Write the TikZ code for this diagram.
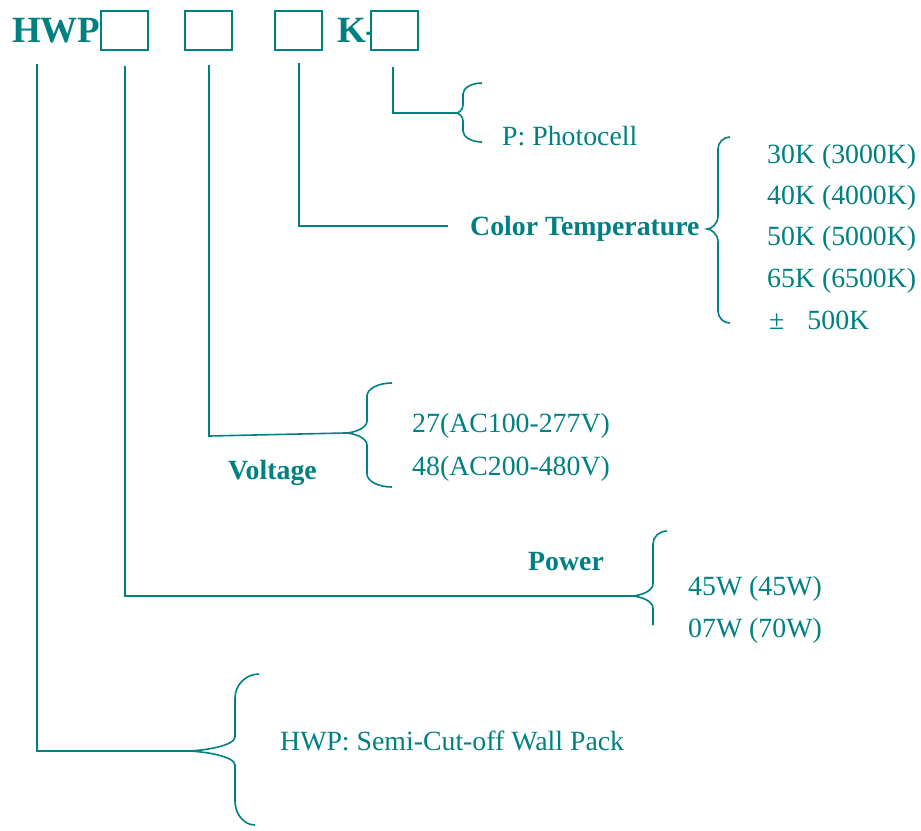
\documentclass[tikz,border=0pt]{standalone}
\usepackage{fontspec}
\setmainfont{Liberation Serif}
\definecolor{tealc}{RGB}{0,128,128}
\newcommand\cbrace[9]{%
\draw[ln] (#4,#5) .. controls ({#3+0.45*(#4-#3)},#5) and (#3,{#5+0.45*#7}) .. (#3,{#5+#7})
 -- (#3,{#2-#8}) .. controls (#3,{#2-0.4*#8}) and ({#1+0.4*(#3-#1)},#2) .. (#1,#2)
 .. controls ({#1+0.4*(#3-#1)},#2) and (#3,{#2+0.4*#8}) .. (#3,{#2+#8})
 -- (#3,{#6-#7}) .. controls (#3,{#6-0.45*#7}) and ({#3+0.45*(#9-#3)},#6) .. (#9,#6);}
\tikzset{
  ln/.style={draw=tealc, line width=1.6pt},
  txt/.style={text=tealc, font=\fontsize{27.8}{30}\selectfont, anchor=base west, inner sep=0pt},
  btxt/.style={txt, font=\fontsize{27.8}{30}\selectfont\bfseries},
  htxt/.style={txt, font=\fontsize{37}{40}\selectfont\bfseries},
  codebox/.style={draw=tealc, line width=1.6pt, fill=white, minimum width=47.5pt, minimum height=39.5pt, inner sep=0pt}
}
\begin{document}
\begin{tikzpicture}[x=1pt,y=-1pt]
\useasboundingbox (0,0) rectangle (921,830);
% header
\node[htxt] (hwp) at (12,42) {HWP};
\node[htxt] (k) at (337,42) {K-};
\node[codebox] (b1) at (124.5,30.5) {};
\node[codebox] (b2) at (208.5,30.5) {};
\node[codebox] (b3) at (298.5,30.5) {};
\node[codebox] (b4) at (394.5,30.5) {};
% line tops
\coordinate (t0) at (37,64);
\coordinate (t1) at (125,66);
\coordinate (t2) at (209,65);
\coordinate (t3) at (299,63);
\coordinate (t4) at (393,67);
% tips
\coordinate (pcTip) at (456,113);
\coordinate (ctEnd) at (448,226);
\coordinate (vCorner) at (209,436);
\coordinate (vTip) at (345,433);
\coordinate (pTip) at (631,596);
\coordinate (hTip) at (185,751);
% connectors
\draw[ln] (t4) |- (pcTip);
\draw[ln] (t3) |- (ctEnd);
\draw[ln] (t2) -- (vCorner) -- (vTip);
\draw[ln] (t1) |- (pTip);
\draw[ln] (t0) |- (hTip);
% braces
\cbrace{456}{113}{463}{482}{83}{142}{11}{8}{482}
\cbrace{707}{229}{718}{730}{137}{323}{12}{13}{730}
\cbrace{345}{433}{367}{392}{383}{487}{13}{12}{392}
\cbrace{631}{596}{653}{667}{531}{625}{13}{12}{653}
\cbrace{185}{751}{235}{259}{674}{825}{24}{14}{255}
% texts
\node[txt] (pc) at (502,145) {P: Photocell};
\node[btxt] (ct) at (470,235) {Color Temperature};
\node[txt] (ct1) at (767,163) {30K (3000K)};
\node[txt] (ct2) at (767,204) {40K (4000K)};
\node[txt] (ct3) at (767,245) {50K (5000K)};
\node[txt] (ct4) at (767,287) {65K (6500K)};
\node[txt] (ct5) at (769,329) {±\hspace{23pt}500K};
\node[txt] (v1) at (412,432) {27(AC100-277V)};
\node[txt] (v2) at (412,475) {48(AC200-480V)};
\node[btxt] (vl) at (228,479) {Voltage};
\node[btxt] (pw) at (528,570) {Power};
\node[txt] (p1) at (688,595) {45W (45W)};
\node[txt] (p2) at (688,637) {07W (70W)};
\node[txt] (hd) at (280,750) {HWP: Semi-Cut-off Wall Pack};
\end{tikzpicture}
\end{document}
